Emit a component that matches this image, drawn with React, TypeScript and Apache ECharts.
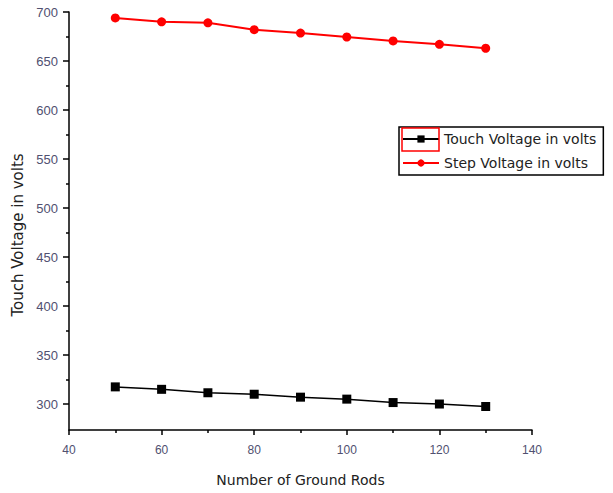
import React, { useEffect, useRef } from 'react';
import * as echarts from 'echarts';

const groundRods = [50, 60, 70, 80, 90, 100, 110, 120, 130];
const touchVoltage = [317.5, 315, 311.5, 310, 307, 305, 301.5, 300, 297.5];
const stepVoltage = [694, 690, 689, 682, 678.5, 674.5, 670.5, 667, 663];
const yMajorTicks = [300, 350, 400, 450, 500, 550, 600, 650, 700];
const yMinorTicks = [325, 375, 425, 475, 525, 575, 625, 675];
const seriesNames = ['Touch Voltage in volts', 'Step Voltage in volts'];

const labelColor = '#505070';
const axisBlack = { color: '#000', width: 1.5 };

export default function App() {
  const ref = useRef<HTMLDivElement>(null);
  useEffect(() => {
    if (!ref.current) return;
    const chart = echarts.init(ref.current, null, { renderer: 'svg' });
    const option: any = {
      animation: false,
      backgroundColor: '#fff',
      grid: { left: 69, right: 81, top: 12, bottom: 63, containLabel: false },
      xAxis: {
        type: 'value',
        min: 40,
        max: 140,
        interval: 20,
        name: 'Number of Ground Rods',
        nameLocation: 'middle',
        nameGap: 43,
        nameTextStyle: { fontFamily: 'DejaVu Sans', fontSize: 14, color: '#222' },
        axisLine: { show: true, onZero: false, lineStyle: axisBlack },
        axisTick: { show: true, inside: false, length: 5, lineStyle: axisBlack },
        minorTick: { show: true, splitNumber: 2, length: 3, lineStyle: axisBlack },
        axisLabel: { margin: 14, fontFamily: 'Liberation Sans', fontSize: 12, color: labelColor },
        splitLine: { show: false },
        minorSplitLine: { show: false },
      },
      yAxis: [
        {
          type: 'value',
          min: 273.5,
          max: 700,
          position: 'left',
          name: 'Touch Voltage in volts',
          nameLocation: 'middle',
          nameGap: 43,
          nameRotate: 90,
          nameTextStyle: {
            fontFamily: 'DejaVu Sans',
            fontSize: 15,
            color: '#222',
            padding: [0, 28, 0, 0],
          },
          axisLine: { show: true, onZero: false, lineStyle: axisBlack },
          axisTick: { show: true, inside: false, length: 6, customValues: yMajorTicks, lineStyle: axisBlack },
          axisLabel: {
            show: true,
            customValues: yMajorTicks,
            margin: 11,
            fontFamily: 'Liberation Sans',
            fontSize: 13,
            color: labelColor,
          },
          splitLine: { show: false },
        },
        {
          type: 'value',
          min: 273.5,
          max: 700,
          position: 'left',
          axisLine: { show: false },
          axisTick: { show: true, inside: false, length: 3, customValues: yMinorTicks, lineStyle: axisBlack },
          axisLabel: { show: false },
          splitLine: { show: false },
        },
      ],
      legend: {
        orient: 'vertical',
        left: 399,
        top: 127,
        padding: [4, 7, 4, 3],
        itemGap: 8,
        itemWidth: 36,
        itemHeight: 9,
        backgroundColor: '#fff',
        borderColor: '#000',
        borderWidth: 1.5,
        borderRadius: 0,
        textStyle: { fontFamily: 'DejaVu Sans', fontSize: 14, color: '#222', lineHeight: 16 },
        data: seriesNames,
      },
      graphic: [
        {
          type: 'rect',
          z: 100,
          shape: { x: 402, y: 128, width: 37, height: 23 },
          style: { fill: 'none', stroke: '#ff0000', lineWidth: 1.5 },
        },
      ],
      series: [
        {
          name: seriesNames[0],
          type: 'line',
          yAxisIndex: 0,
          data: groundRods.map((x, i) => [x, touchVoltage[i]]),
          symbol: 'rect',
          symbolSize: 9,
          itemStyle: { color: '#000' },
          lineStyle: { color: '#000', width: 1.5 },
        },
        {
          name: seriesNames[1],
          type: 'line',
          yAxisIndex: 0,
          data: groundRods.map((x, i) => [x, stepVoltage[i]]),
          symbol: 'circle',
          symbolSize: 9,
          itemStyle: { color: '#ff0000' },
          lineStyle: { color: '#ff0000', width: 2 },
        },
      ],
    };
    chart.setOption(option);
    return () => chart.dispose();
  }, []);
  return (
    <div
      ref={ref}
      style={{ position: 'fixed', left: 0, top: 0, width: 613, height: 493, background: '#fff' }}
    />
  );
}
